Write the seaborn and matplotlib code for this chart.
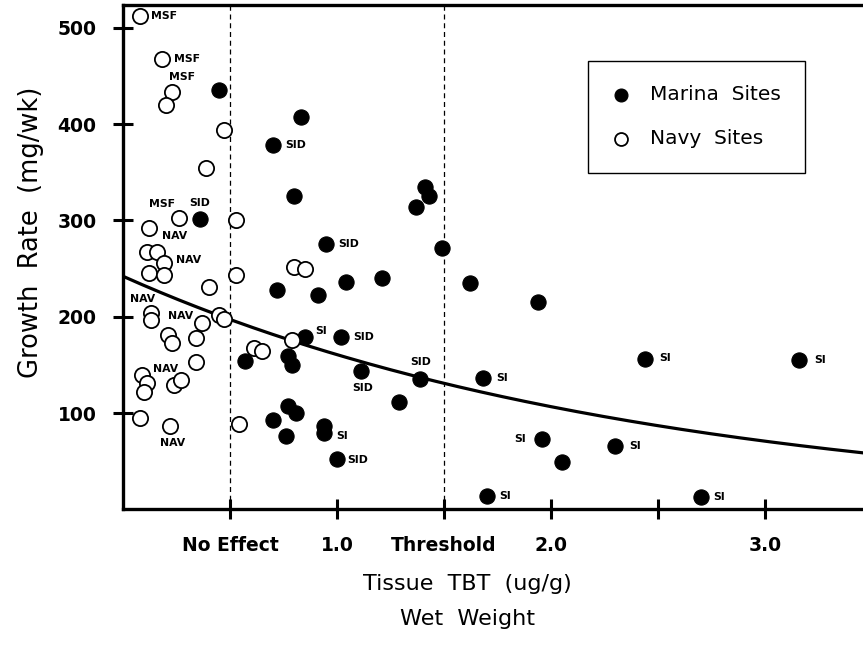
import numpy as np
import pandas as pd
import matplotlib
matplotlib.use("Agg")
import matplotlib.pyplot as plt
import seaborn as sns

# Tissue TBT (ug/g wet weight) and growth rate (mg/wk) for navy sites (open circles)
navy_tbt = [0.08, 0.18, 0.23, 0.20, 0.47, 0.39, 0.26, 0.53, 0.12, 0.11,
            0.16, 0.19, 0.12, 0.19, 0.53, 0.40, 0.13, 0.13, 0.37, 0.45,
            0.47, 0.21, 0.23, 0.34, 0.34, 0.61, 0.65, 0.09, 0.11, 0.10,
            0.24, 0.27, 0.08, 0.22, 0.54, 0.80, 0.85, 0.79]
navy_growth = [512, 468, 433, 420, 394, 354, 302, 300, 292, 267,
               267, 256, 245, 243, 243, 231, 204, 197, 193, 202,
               198, 181, 173, 178, 153, 168, 164, 139, 131, 122,
               129, 134, 95, 86, 89, 252, 250, 176]
navy_site = ["MSF", "MSF", "MSF", "", "", "", "MSF", "", "NAV", "",
             "", "NAV", "", "", "", "", "NAV", "NAV", "", "",
             "", "", "", "", "", "", "", "NAV", "", "",
             "", "", "", "NAV", "", "", "", ""]

# Marina sites (filled circles)
marina_tbt = [0.45, 0.36, 0.70, 0.83, 0.80, 1.41, 1.43, 1.37, 0.95, 1.49,
              0.72, 0.91, 1.04, 1.21, 1.62, 1.94, 0.85, 1.02, 0.57, 0.77,
              0.79, 1.11, 1.39, 1.68, 2.44, 3.16, 1.29, 0.77, 0.81, 0.70,
              0.76, 0.94, 0.94, 1.00, 1.96, 2.05, 2.30, 1.70, 2.70]
marina_growth = [435, 301, 378, 407, 325, 335, 325, 314, 276, 271,
                 228, 223, 236, 240, 235, 215, 179, 179, 154, 159,
                 150, 144, 135, 136, 156, 155, 111, 107, 100, 93,
                 76, 86, 79, 52, 73, 49, 66, 14, 13]
marina_site = ["", "SID", "SID", "", "", "", "", "", "SID", "",
               "", "", "", "", "", "", "SI", "SID", "", "",
               "", "SID", "SID", "SI", "SI", "SI", "", "", "", "",
               "", "", "SI", "SID", "SI", "", "SI", "SI", "SI"]

# Exponential fit: growth = FIT_A * exp(-FIT_K * tbt)
FIT_A = 242.0
FIT_K = 0.41

x_ticks = [0.5, 1.0, 1.5, 2.0, 2.5, 3.0]
x_tick_labels = ["No Effect", "1.0", "Threshold", "2.0", "", "3.0"]
y_ticks = [100, 200, 300, 400, 500]

# Label offsets (pixels) of each site code from its point
navy_label_offset = {0: (24, 0), 1: (25, 0), 2: (10, 15), 6: (-17, 14),
                     8: (26, -8), 11: (25, 3), 16: (-8, 14), 17: (30, 4),
                     27: (23, 6), 33: (2, -17)}
marina_label_offset = {1: (0, 16), 2: (23, 0), 8: (22, 0), 16: (16, 6),
                       17: (22, 0), 21: (2, -17), 22: (0, 17), 23: (20, 0),
                       24: (20, 1), 25: (21, 0), 32: (18, -3), 33: (21, -1),
                       34: (-22, 0), 36: (20, 0), 37: (18, 0), 38: (18, 0)}

navy = pd.DataFrame({"tbt": navy_tbt, "growth": navy_growth, "site": navy_site})
marina = pd.DataFrame({"tbt": marina_tbt, "growth": marina_growth, "site": marina_site})

sns.set_style("white")
plt.rcParams["font.family"] = ["DejaVu Sans"]
for key in ("text.color", "axes.labelcolor", "xtick.color", "ytick.color"):
    plt.rcParams[key] = "black"

fig = plt.figure(figsize=(8.63, 6.46), dpi=100)
ax = fig.add_axes([123 / 863, 1 - 509.3 / 646, 740 / 863, 504.3 / 646])

# fitted curve
curve_x = np.linspace(0, 3.46, 200)
sns.lineplot(x=curve_x, y=FIT_A * np.exp(-FIT_K * curve_x), color="black",
             linewidth=2.3, ax=ax, legend=False)

# reference lines for no-effect and threshold concentrations
for xv in (0.5, 1.5):
    ax.axvline(xv, color="black", linewidth=0.9, linestyle=(0, (4, 3)), zorder=1)

sns.scatterplot(data=marina, x="tbt", y="growth", color="black", edgecolor="black",
                s=120, linewidth=0.8, label="Marina  Sites", ax=ax, zorder=3)
sns.scatterplot(data=navy, x="tbt", y="growth", color="white", edgecolor="black",
                s=120, linewidth=1.3, label="Navy  Sites", ax=ax, zorder=3)

for df, offsets in ((navy, navy_label_offset), (marina, marina_label_offset)):
    for i, (dx, dy) in offsets.items():
        ax.annotate(df["site"][i], (df["tbt"][i], df["growth"][i]),
                    xytext=(dx, dy), textcoords="offset pixels",
                    ha="center", va="center", fontsize=7.8, fontweight="bold",
                    zorder=4)

ax.set_xlim(0, 3.458)
ax.set_ylim(0, 523.7)
ax.set_xticks(x_ticks)
ax.set_xticklabels(x_tick_labels, fontsize=13.5, fontweight="bold")
ax.set_yticks(y_ticks)
ax.set_yticklabels([str(v) for v in y_ticks], fontsize=13.5, fontweight="bold")
ax.tick_params(axis="both", direction="inout", length=14, width=2.2, color="black",
               bottom=True, left=True, top=False, right=False)
ax.tick_params(axis="x", pad=12)
ax.tick_params(axis="y", pad=12)

for side in ("left", "bottom", "top"):
    ax.spines[side].set_linewidth(2.4)
    ax.spines[side].set_color("black")
ax.spines["right"].set_visible(False)

ax.set_xlabel("Tissue  TBT  (ug/g)\nWet  Weight", fontsize=16, linespacing=1.95,
              va="top")
ax.xaxis.set_label_coords(0.465, -0.128)
ax.set_ylabel("Growth  Rate  (mg/wk)", fontsize=18.5)
ax.yaxis.set_label_coords(-0.107, 0.55)

leg = ax.legend(loc="upper left",
                bbox_to_anchor=((588 - 123) / 740, (509.3 - 61) / 504.3),
                frameon=True, fancybox=False, edgecolor="black", framealpha=1,
                fontsize=14.5, borderpad=1.2, labelspacing=1.25, handlelength=0.86,
                handletextpad=1.0, markerscale=0.85, borderaxespad=0)
leg.get_frame().set_linewidth(1.0)

fig.savefig("out.png", dpi=100)
